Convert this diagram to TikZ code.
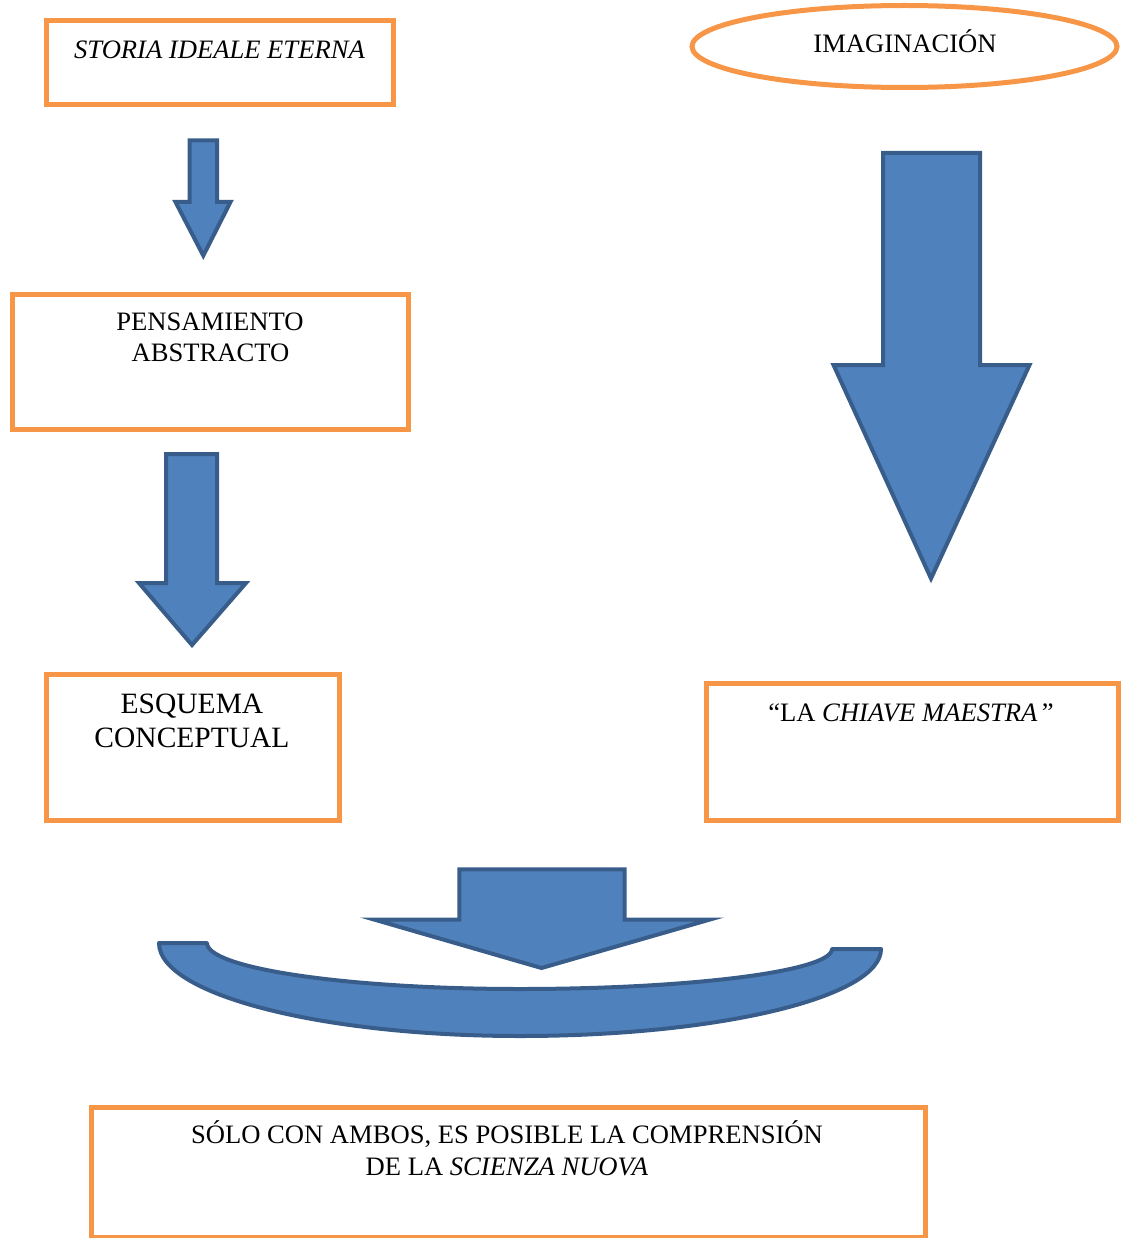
\documentclass[tikz,border=0pt]{standalone}
\usepackage{fontspec}
\setmainfont{Liberation Serif}
\usetikzlibrary{shapes.geometric}
\definecolor{borange}{HTML}{F79646}
\definecolor{bfill}{HTML}{4F81BD}
\definecolor{bline}{HTML}{385D8A}
\tikzset{
  obox/.style={draw=borange, line width=5pt, rectangle, inner sep=0pt},
  oell/.style={draw=borange, line width=5pt, ellipse, inner sep=0pt},
  blk/.style={fill=bfill, draw=bline, line width=4pt, line join=miter, miter limit=20},
  txt/.style={anchor=base, inner sep=0pt, font=\fontsize{26.6}{31}\selectfont},
  bigtxt/.style={anchor=base, inner sep=0pt, font=\fontsize{29.5}{34}\selectfont}
}
\begin{document}
\begin{tikzpicture}[x=1pt,y=-1pt]
\useasboundingbox (0,0) rectangle (1121,1238);
% boxes
\node[obox, minimum width=347pt, minimum height=84pt] (b1) at (220,62.5) {};
\node[oell, minimum width=425pt, minimum height=82pt] (e1) at (904.5,46.5) {};
\node[obox, minimum width=396pt, minimum height=135pt] (b2) at (210.5,361.8) {};
\node[obox, minimum width=293pt, minimum height=146pt] (b3) at (193,747.2) {};
\node[obox, minimum width=412pt, minimum height=137pt] (b4) at (912.5,752) {};
\node[obox, minimum width=834pt, minimum height=130pt] (b5) at (508,1172) {};
% texts
\node[txt] (t1) at (219.5,58.3) {\textit{STORIA IDEALE ETERNA}};
\node[txt] (t2) at (905,52.3) {IMAGINACIÓN};
\node[txt] (t3a) at (210,330.7) {PENSAMIENTO};
\node[txt] (t3b) at (210.5,361) {ABSTRACTO};
\node[bigtxt] (t4a) at (192,713.3) {ESQUEMA};
\node[bigtxt] (t4b) at (192,747.3) {CONCEPTUAL};
\node[txt] (t5) at (911,721.7) {“LA \textit{CHIAVE MAESTRA}\,”};
\node[txt] (t6a) at (507,1143.3) {SÓLO CON AMBOS, ES POSIBLE LA COMPRENSIÓN};
\node[txt] (t6b) at (507,1175) {DE LA \textit{SCIENZA NUOVA}};
% block arrows
\draw[blk] (189.5,140.3) -- (217,140.3) -- (217,202) -- (230.5,202) -- (203.3,255.6)
  -- (175.5,202) -- (189.5,202) -- cycle;
\draw[blk] (166,454) -- (217,454) -- (217,583) -- (246,583) -- (192,645)
  -- (139,583) -- (166,583) -- cycle;
\draw[blk] (883,153) -- (980,153) -- (980,365) -- (1029.5,365) -- (931,578.5)
  -- (833.5,365) -- (883,365) -- cycle;
\draw[blk] (459.3,869.3) -- (624.7,869.3) -- (624.7,919.5) -- (710,919.5) -- (541.5,968)
  -- (374,919.5) -- (459.3,919.5) -- cycle;
% curved band
\draw[blk, line join=round] (159,943) -- (207,943)
  .. controls (207,968.4) and (347.2,989) .. (520,989)
  .. controls (692.2,989) and (832,971) .. (832,949)
  -- (881,949)
  .. controls (881,997) and (719.3,1036) .. (520,1036)
  .. controls (320.7,1036) and (159,994.3) .. (159,943) -- cycle;
\end{tikzpicture}
\end{document}
